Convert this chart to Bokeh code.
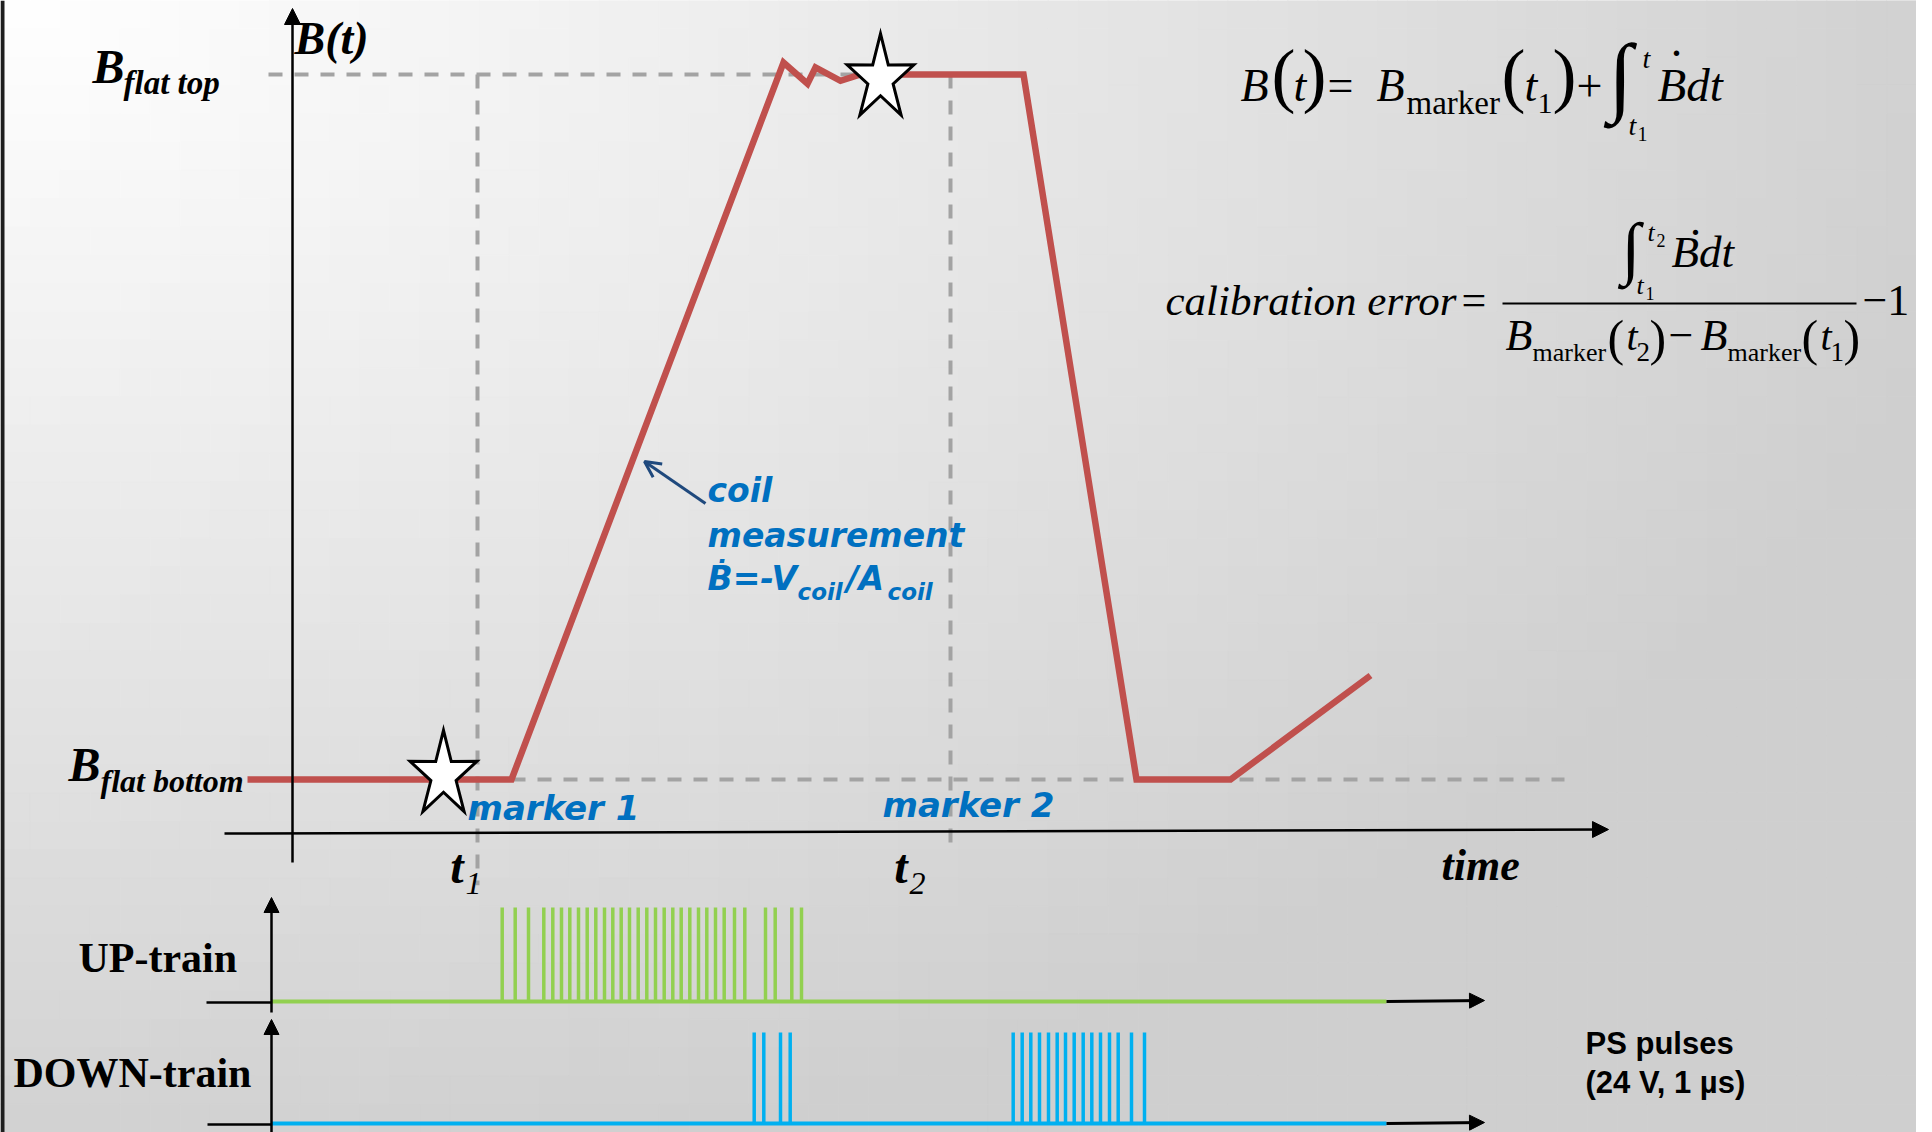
import numpy as np
from bokeh.plotting import figure
from bokeh.models import Range1d, Arrow, NormalHead, OpenHead
from bokeh.core.properties import value
from bokeh.embed import file_html
from bokeh.resources import INLINE

# ---------------- data ----------------
# B(t) cycle: time in arbitrary units, field normalised (0 = flat bottom, 1 = flat top)
curve_t = [-4.5, 21.9, 49.1, 51.5, 52.3, 54.8, 56.8, 73.1, 84.4, 93.8, 107.8]
curve_B = [0.0, 0.0, 1.017, 0.987, 1.010, 0.991, 1.0, 1.0, 0.0, 0.0, 0.1475]
t1, t2 = 18.5, 65.8
marker_t = [15.1, 58.8]
marker_B = [0.006, 0.994]
marker_labels = ["marker 1", "marker 2"]
tick_t = [t1, t2]
tick_main = ["t", "t"]
tick_sub = ["1", "2"]
level_labels = ["flat top", "flat bottom"]

# PS pulse trains (24 V, 1 us pulses)
pulse_V = 24.0
train_start, train_end = -2.1, 109.4
up_pulse_t = [20.97, 22.27, 23.6, 25.13, 26.03, 26.9, 27.73, 28.6, 29.47, 30.33,
              31.2, 32.03, 32.87, 33.7, 34.57, 35.43, 36.3, 37.17, 38.03, 38.87,
              39.73, 40.6, 41.43, 42.3, 43.17, 44.2, 45.23, 47.3, 48.27, 49.93, 50.9]
down_pulse_t = [46.17, 47.13, 48.8, 49.77,
                72.07, 72.97, 73.83, 74.7, 75.6, 76.47, 77.3, 78.17, 79.07, 79.93,
                80.8, 81.7, 82.57, 83.9, 85.2]

# ---------------- layout (pixel anchors) ----------------
W, H = 1916, 1132
PX0, PX1, PY0, PY1 = 0, W, 0, H
X0, XS = 292.0, 10.0            # pixel x of t=0, px per time unit
YB0, YB1 = 779.0, 74.0          # pixel y of B=0 and B=1
UP0, UP1 = 1001.0, 907.0        # pixel y of 0 V / 24 V (UP)
DN0, DN1 = 1123.0, 1032.0       # pixel y of 0 V / 24 V (DOWN)
BASE_FIX = 0.30                 # baseline correction (fraction of font size)

def tx(t):
    return X0 + XS * t

def by(B):
    return YB0 - (YB0 - YB1) * B

SERIF = "Liberation Serif"
SANS = "DejaVu Sans"
ARIAL = "Liberation Sans"
BLUE = "#0070C0"
RED = "#C0504D"
GREEN = "#92D050"
CYAN = "#00B0F0"
DASH = "#A3A3A3"

p = figure(width=W, height=H, x_range=Range1d(PX0, PX1), y_range=Range1d(PY1, PY0),
           x_axis_type=None, y_axis_type=None, output_backend="svg",
           toolbar_location=None, min_border=0, outline_line_color=None,
           background_fill_color="white", border_fill_color="white")

p.extra_x_ranges = {"time": Range1d(start=(PX0 - X0) / XS, end=(PX1 - X0) / XS)}
p.extra_y_ranges = {
    "B": Range1d(start=(YB0 - PY1) / (YB0 - YB1), end=(YB0 - PY0) / (YB0 - YB1)),
    "up": Range1d(start=(UP0 - PY1) * pulse_V / (UP0 - UP1), end=(UP0 - PY0) * pulse_V / (UP0 - UP1)),
    "down": Range1d(start=(DN0 - PY1) * pulse_V / (DN0 - DN1), end=(DN0 - PY0) * pulse_V / (DN0 - DN1)),
}

# ---------------- background gradient ----------------
gx = np.linspace(PX0, W, 65)
gy = np.linspace(PY0, PY1, 41)
L, R_, T_, B_, C = [], [], [], [], []
for i in range(len(gx) - 1):
    for j in range(len(gy) - 1):
        cx = 0.5 * (gx[i] + gx[i + 1])
        cy = 0.5 * (gy[j] + gy[j + 1])
        u = min(np.sqrt((cx / 2100.0) ** 2 + (cy / 1250.0) ** 2), 0.96)
        v = int(round(255 - 50 * u))
        L.append(gx[i]); R_.append(gx[i + 1]); T_.append(gy[j]); B_.append(gy[j + 1])
        C.append("#%02x%02x%02x" % (v, v, v))
p.quad(left=L, right=R_, top=T_, bottom=B_, fill_color=C, line_color=C, line_width=1)
# dark slide edge on the left
p.quad(left=[0], right=[4], top=[0], bottom=[H], fill_color="#1e1e1e", line_color=None)

# ---------------- dashed guide lines ----------------
p.segment(x0=[-2.4, 21.9], y0=[1.0, 0.0], x1=[73.1, 127.2], y1=[1.0, 0.0],
          x_range_name="time", y_range_name="B",
          line_color=DASH, line_width=4, line_dash="14 12")
p.segment(x0=[t1, t2], y0=[1.0, 1.0], x1=[t1, t2], y1=[-0.15, -0.098],
          x_range_name="time", y_range_name="B",
          line_color=DASH, line_width=4, line_dash="14 12")

# ---------------- B(t) curve ----------------
p.line(curve_t, curve_B, x_range_name="time", y_range_name="B",
       line_color=RED, line_width=6.5, line_join="miter")

# ---------------- stars (markers) ----------------
sxs, sys = [], []
Rs, rs, sq = 45.0, 17.0, 0.78
for mt, mb in zip(marker_t, marker_B):
    cx, cy = tx(mt), by(mb)
    xs, ys = [], []
    for k in range(10):
        ang = np.deg2rad(-90 + 36 * k)
        rad = Rs if k % 2 == 0 else rs
        xs.append(cx + sq * rad * np.cos(ang))
        ys.append(cy + rad * np.sin(ang))
    sxs.append(xs); sys.append(ys)
p.patches(sxs, sys, fill_color="white", line_color="black", line_width=3, line_join="miter")

# ---------------- axes ----------------
def arrow(x0, y0, x1, y1, w=2.5, hs=16):
    p.add_layout(Arrow(x_start=x0, y_start=y0, x_end=x1, y_end=y1,
                       line_color="black", line_width=w,
                       end=NormalHead(size=hs, fill_color="black", line_color="black", line_width=1)))

arrow(292, 862, 292, 8)
arrow(224, 833, 1608, 829)
# pulse panels
arrow(271, 1012, 271, 897, w=2.5, hs=15)
arrow(271, 1132, 271, 1019, w=2.5, hs=15)
p.segment(x0=[206, 207], y0=[1002, 1124], x1=[271, 271], y1=[1002, 1124], line_color="black", line_width=2.5)
arrow(1386, 1001, 1484, 1000, w=3, hs=15)
arrow(1386, 1123, 1484, 1122, w=3, hs=15)

# ---------------- pulse trains ----------------
p.line([train_start, train_end], [0, 0], x_range_name="time", y_range_name="up",
       line_color=GREEN, line_width=4)
p.segment(x0=up_pulse_t, y0=[0] * len(up_pulse_t), x1=up_pulse_t, y1=[pulse_V] * len(up_pulse_t),
          x_range_name="time", y_range_name="up", line_color=GREEN, line_width=3.5)
p.line([train_start, train_end], [0, 0], x_range_name="time", y_range_name="down",
       line_color=CYAN, line_width=4)
p.segment(x0=down_pulse_t, y0=[0] * len(down_pulse_t), x1=down_pulse_t, y1=[pulse_V] * len(down_pulse_t),
          x_range_name="time", y_range_name="down", line_color=CYAN, line_width=3.5)

# ---------------- coil arrow ----------------
p.add_layout(Arrow(x_start=705, y_start=503, x_end=644, y_end=461,
                   line_color="#1F497D", line_width=3,
                   end=OpenHead(size=16, line_color="#1F497D", line_width=3)))

# ---------------- texts ----------------
def T(x, y, s, size, style="normal", font=SERIF, color="black", align="left", **kw):
    xs = x if isinstance(x, list) else [x]
    p.text(x=xs, y=[y - BASE_FIX * size] * len(xs),
           text=s if isinstance(s, list) else [s],
           text_font=value(font), text_font_size=value("%dpx" % size),
           text_font_style=style, text_color=color, text_align=align,
           text_baseline="alphabetic", **kw)

# axis labels
T(294, 52, "B(t)", 46, "bold italic")
T(92, 80, "B", 48, "bold italic")
T(123, 92, level_labels[0], 33, "bold italic")
T(68, 778, "B", 48, "bold italic")
T(100, 790, level_labels[1], 32, "bold italic")
T(1441, 878, "time", 44, "bold italic")

# t1 / t2 tick labels on the time axis
tick_dx_main = [-14, -43]
tick_dx_sub = [-12, -41]
for tt, tm, ts, dm, dsub in zip(tick_t, tick_main, tick_sub, tick_dx_main, tick_dx_sub):
    T([tt], 880, [tm], 48, "bold italic", align="right", x_range_name="time", x_offset=dm)
    T([tt], 893, [ts], 32, "italic", align="left", x_range_name="time", x_offset=dsub)

# marker labels
T(467, 818, marker_labels[0], 34, "bold italic", SANS, BLUE)
T(882, 815, marker_labels[1], 34, "bold italic", SANS, BLUE)

# coil measurement note
T(707, 500, "coil", 33, "bold italic", SANS, BLUE)
T(707, 545, "measurement", 33, "bold italic", SANS, BLUE)
T(707, 588, "\u1E02=-V", 33, "bold italic", SANS, BLUE)
T(797, 598, "coil", 23, "bold italic", SANS, BLUE)
T(846, 588, "/A", 33, "bold italic", SANS, BLUE)
T(887, 598, "coil", 23, "bold italic", SANS, BLUE)

# formula 1: B(t) = B_marker(t1) + int_{t1}^{t} Bdot dt
T(1240, 99, "B", 46, "italic")
T(1271, 96, "(", 72)
T(1293, 99, "t", 46, "italic")
T(1302, 96, ")", 72)
T(1327, 99, "=", 46)
T(1376, 99, "B", 46, "italic")
T(1406, 112, "marker", 33)
T(1501, 96, "(", 72)
T(1524, 99, "t", 46, "italic")
T(1537, 112, "1", 30)
T(1552, 96, ")", 72)
T(1576, 99, "+", 46)
T(1608, 101, "\u222B", 88)
T(1642, 66, "t", 28, "italic")
T(1628, 133, "t", 28, "italic")
T(1637, 139, "1", 20)
T(1676, 54, ".", 46, align="center")
T(1657, 99, "Bdt", 47, "italic")

# formula 2: calibration error
T(1165, 313, "calibration error", 43, "italic")
T(1461, 313, "=", 44)
p.segment(x0=[1502], y0=[303], x1=[1856], y1=[303], line_color="black", line_width=2)
T(1621, 268, "\u222B", 69)
T(1647, 240, "t", 26, "italic")
T(1656, 245, "2", 18)
T(1636, 293, "t", 26, "italic")
T(1645, 298, "1", 18)
T(1695, 233, ".", 44, align="center")
T(1671, 265, "Bdt", 45, "italic")
T(1505, 348, "B", 44, "italic")
T(1532, 360, "marker", 26)
T(1607, 352, "(", 50)
T(1626, 348, "t", 40, "italic")
T(1636, 360, "2", 27)
T(1649, 352, ")", 50)
T(1668, 348, "\u2212", 44)
T(1700, 348, "B", 44, "italic")
T(1727, 360, "marker", 26)
T(1801, 352, "(", 50)
T(1820, 348, "t", 40, "italic")
T(1830, 360, "1", 27)
T(1843, 352, ")", 50)
T(1862, 313, "\u22121", 44)

# pulse panel labels
T(78, 970, "UP-train", 42, "bold")
T(13, 1085, "DOWN-train", 42, "bold")
T(1585, 1052, "PS pulses", 31, "bold", ARIAL)
T(1585, 1091, "(24 V, 1 \u00B5s)", 31, "bold", ARIAL)

open("out.html", "w").write(file_html(p, INLINE))
